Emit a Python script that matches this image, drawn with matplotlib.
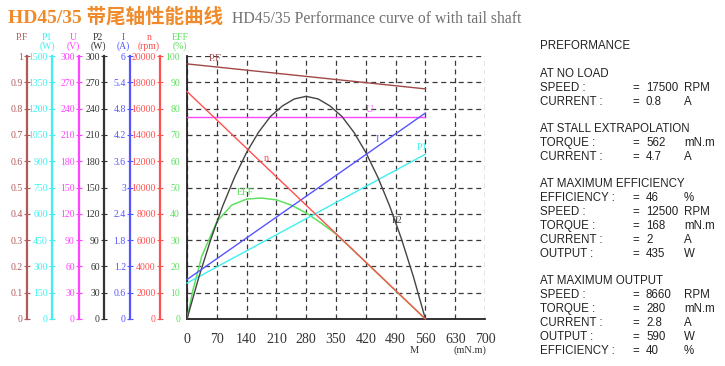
import numpy as np
import matplotlib
matplotlib.use("Agg")
import matplotlib.pyplot as plt

# =============================================================================
# Data (torque in mN.m)
# =============================================================================
torque_lin = [0, 560]
pf_vals = [0.97, 0.875]          # power factor
n_vals = [17300, 0]              # speed, rpm
u_vals = [230, 230]              # voltage, V
i_vals = [0.9, 4.7]              # current, A
p1_vals = [205, 940]             # input power, W

torque_p2 = [0, 28, 56, 84, 112, 140, 168, 196, 224, 252, 280,
             308, 336, 364, 392, 420, 448, 476, 504, 532, 560]
p2_vals = [0, 48, 91, 129, 162, 190, 213, 231, 243, 251, 254,
           251, 243, 231, 213, 190, 162, 129, 91, 48, 0]

torque_eff = [0, 14, 35, 70, 105, 140, 175, 210, 245, 280, 315,
              350, 385, 420, 455, 490, 525, 560]
eff_vals = [0, 11, 24, 37, 43.3, 45.6, 46, 45.3, 43.3, 40.3, 36.5,
            32.3, 27, 21.6, 16.2, 10.8, 5.4, 0]

x_ticks = [0, 70, 140, 210, 280, 350, 420, 490, 560, 630, 700]

# side axes: name, unit, spine x (px), colour, top of scale
side_axes = [
    ("P.F", "", 27, "#b05a5a", 1.0),
    ("P1", "(W)", 52, "#3ff0f0", 1500),
    ("U", "(V)", 79, "#ff44ff", 300),
    ("P2", "(W)", 104, "#333333", 300),
    ("I", "(A)", 130, "#5555ff", 6),
    ("n", "(rpm)", 160, "#ff5050", 20000),
]
header_x = {"P.F": 22, "P1": 47, "U": 73, "P2": 98, "I": 123, "n": 149}

perf_lines = [
    ("PREFORMANCE", None, None, None, 46),
    ("AT NO LOAD", None, None, None, 74),
    ("SPEED :", "=", "17500", "RPM", 88),
    ("CURRENT :", "=", "0.8", "A", 102),
    ("AT STALL EXTRAPOLATION", None, None, None, 129),
    ("TORQUE :", "=", "562", "mN.m", 143),
    ("CURRENT :", "=", "4.7", "A", 157),
    ("AT MAXIMUM EFFICIENCY", None, None, None, 184),
    ("EFFICIENCY :", "=", "46", "%", 198),
    ("SPEED :", "=", "12500", "RPM", 212),
    ("TORQUE :", "=", "168", "mN.m", 226),
    ("CURRENT :", "=", "2", "A", 240),
    ("OUTPUT :", "=", "435", "W", 254),
    ("AT MAXIMUM OUTPUT", None, None, None, 281),
    ("SPEED :", "=", "8660", "RPM", 295),
    ("TORQUE :", "=", "280", "mN.m", 309),
    ("CURRENT :", "=", "2.8", "A", 323),
    ("OUTPUT :", "=", "590", "W", 337),
    ("EFFICIENCY :", "=", "40", "%", 351),
]

W, H = 725, 366
SERIF = "Liberation Serif"
EFF_COLOR = "#5fe05f"

# =============================================================================
# Figure and main axes
# =============================================================================
fig = plt.figure(figsize=(W / 100, H / 100), dpi=100)
x0, x1, y0, y1 = 187, 485, 56, 319
ax = fig.add_axes([x0 / W, 1 - y1 / H, (x1 - x0) / W, (y1 - y0) / H])
ax.set_xlim(0, 700)
ax.set_ylim(0, 100)
ax.set_xticks(x_ticks)
ax.set_yticks(np.arange(0, 101, 10))
ax.grid(True, color="#3a3a3a", linestyle=(0, (4, 3)), linewidth=0.9)
for s in ["top", "right"]:
    ax.spines[s].set_visible(False)
for s in ["left", "bottom"]:
    ax.spines[s].set_color("#222222")
    ax.spines[s].set_linewidth(1.3)
ax.tick_params(axis="x", length=0, pad=10, labelsize=10, labelcolor="#333333")
ax.tick_params(axis="y", length=0, pad=5, labelsize=7, labelcolor=EFF_COLOR)
for lab in ax.get_xticklabels() + ax.get_yticklabels():
    lab.set_family(SERIF)
ax.set_axisbelow(True)

ax.plot(torque_eff, eff_vals, color=EFF_COLOR, lw=1.1, zorder=3)
ax.text(136, 47, "EFF", color=EFF_COLOR, fontsize=7, family=SERIF, ha="center")

ax.text(-7 / (x1 - x0), (y1 - 38) / (y1 - y0), "EFF", transform=ax.transAxes,
        color=EFF_COLOR, fontsize=7, family=SERIF, ha="center", va="center")
ax.text(-7 / (x1 - x0), (y1 - 46) / (y1 - y0), "(%)", transform=ax.transAxes,
        color=EFF_COLOR, fontsize=7, family=SERIF, ha="center", va="center")

ax.text((414 - x0) / (x1 - x0), -0.12, "M", transform=ax.transAxes,
        fontsize=7.5, family=SERIF, ha="center", va="center", color="#333333")
ax.text((470 - x0) / (x1 - x0), -0.12, "(mN.m)", transform=ax.transAxes,
        fontsize=7.5, family=SERIF, ha="center", va="center", color="#333333")

# =============================================================================
# Side axes with their own scales
# =============================================================================
axes_by_name = {}
for name, unit, pos, color, top in side_axes:
    tw = ax.twinx()
    tw.set_ylim(0, top)
    tw.yaxis.set_ticks_position("left")
    tw.spines["left"].set_position(("axes", (pos - x0) / (x1 - x0)))
    tw.spines["left"].set_color(color)
    tw.spines["left"].set_linewidth(1.6)
    for s in ["right", "top", "bottom"]:
        tw.spines[s].set_visible(False)
    ticks = np.linspace(0, top, 11)
    tw.set_yticks(ticks)
    tw.set_yticklabels([f"{v:g}" for v in ticks], family=SERIF)
    tw.tick_params(axis="y", direction="inout", length=4, width=0.8,
                   colors=color, labelsize=7, pad=1)
    hx = (header_x[name] - x0) / (x1 - x0)
    tw.text(hx, (y1 - 38) / (y1 - y0), name, transform=tw.transAxes, color=color,
            fontsize=7, family=SERIF, ha="center", va="center")
    if unit:
        tw.text(hx, (y1 - 46) / (y1 - y0), unit, transform=tw.transAxes, color=color,
                fontsize=7, family=SERIF, ha="center", va="center")
    axes_by_name[name] = (tw, color)

curves = [
    ("P.F", torque_lin, pf_vals, "P.F", 66, 0.975),
    ("n", torque_lin, n_vals, "n", 186, 11860),
    ("U", torque_lin, u_vals, "U", 428, 234),
    ("I", torque_lin, i_vals, "I", 448, 4.0),
    ("P1", torque_lin, p1_vals, "P1", 552, 950),
    ("P2", torque_p2, p2_vals, "P2", 493, 107),
]
line_colors = {"P.F": "#a04848", "P2": "#444444"}
for name, xs, ys, lab, lx, ly in curves:
    tw, color = axes_by_name[name]
    c = line_colors.get(name, color)
    tw.plot(xs, ys, color=c, lw=1.0, clip_on=False)
    tw.text(lx, ly, lab, color=c, fontsize=7.5, family=SERIF, ha="center", va="bottom")

# =============================================================================
# Title and performance table
# =============================================================================
fig.text(8 / W, 1 - 23 / H, "HD45/35 带尾轴性能曲线", color="#f08a2a", fontsize=14,
         fontweight="bold", family=[SERIF, "Noto Sans CJK SC"], va="baseline")
fig.text(232 / W, 1 - 23 / H, "HD45/35 Performance curve of with tail shaft",
         color="#707070", fontsize=11.3, family=SERIF, va="baseline")

for label, eq, val, unit, y in perf_lines:
    yy = 1 - y / H
    kw = dict(fontsize=8.3, family="Liberation Sans", color="#222222", va="center")
    fig.text(540 / W, yy, label, **kw)
    if eq:
        fig.text(632 / W, yy, eq, **kw)
        fig.text(646 / W, yy, val, **kw)
        fig.text(684 / W, yy, unit, **kw)

fig.savefig("out.png", dpi=100)
